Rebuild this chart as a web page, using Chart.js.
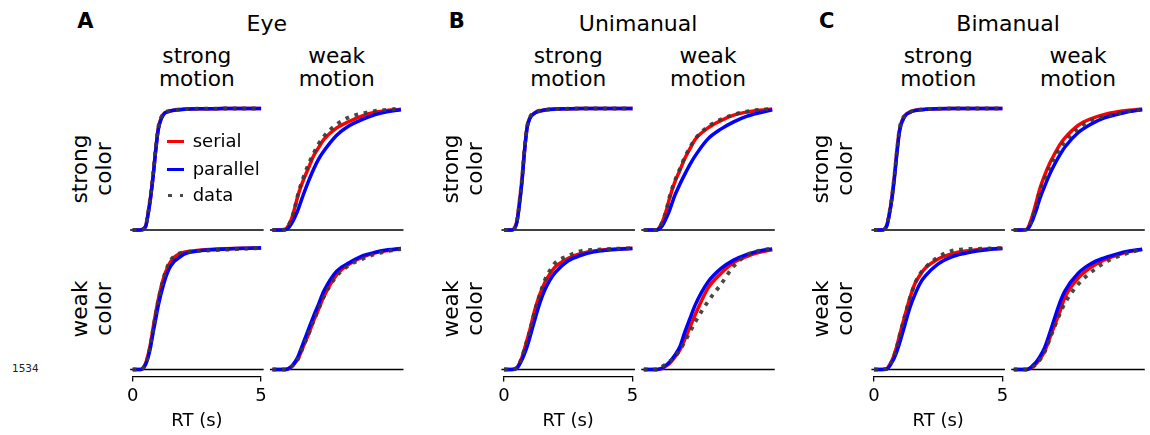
<!DOCTYPE html>
<html><head><meta charset="utf-8">
<script src="https://cdn.jsdelivr.net/npm/chart.js@4/dist/chart.umd.min.js"></script>
<style>
html,body{margin:0;padding:0;background:#fff;width:1150px;height:435px;overflow:hidden;font-family:"DejaVu Sans",sans-serif;color:#000}
#root{position:relative;width:1150px;height:435px}
canvas{position:absolute}
.t{position:absolute;white-space:nowrap;text-align:center}
</style></head><body>
<div id="root"></div>
<script>
// ---------- data ----------
const T = [0, 0.3, 0.5, 0.6, 0.7, 0.8, 0.9, 1.0, 1.2, 1.4, 1.6, 1.8, 2.0, 2.5, 3.0, 3.5, 4.0, 4.5, 5.0];
const xTickValues = [0, 5];
const groupTitles = ['Eye', 'Unimanual', 'Bimanual'];
const groupLetters = ['A', 'B', 'C'];
const colTitles = [['strong', 'motion'], ['weak', 'motion']];
const rowTitles = [['strong', 'color'], ['weak', 'color']];
const legendLabels = ['serial', 'parallel', 'data'];

// Eye
const eyeSS_serial   = [0,0,0.03,0.14,0.28,0.46,0.67,0.84,0.955,0.977,0.986,0.99,0.993,0.997,0.998,0.999,1,1,1];
const eyeSS_parallel = [0,0,0.025,0.13,0.27,0.45,0.66,0.83,0.95,0.974,0.985,0.99,0.993,0.997,0.998,0.999,1,1,1];
const eyeSS_data     = [0,0,0.03,0.14,0.29,0.47,0.68,0.85,0.958,0.98,0.988,0.992,0.995,0.998,0.999,1,1,1,1];
const eyeSW_serial   = [0,0,0.005,0.03,0.07,0.13,0.21,0.29,0.41,0.51,0.61,0.68,0.745,0.84,0.895,0.94,0.97,0.985,0.993];
const eyeSW_parallel = [0,0,0.002,0.015,0.04,0.075,0.12,0.17,0.29,0.40,0.50,0.585,0.65,0.78,0.86,0.91,0.95,0.975,0.99];
const eyeSW_data     = [0,0,0.005,0.03,0.07,0.13,0.21,0.30,0.43,0.54,0.63,0.71,0.77,0.87,0.93,0.96,0.98,0.99,1];
const eyeWS_serial   = [0,0,0.05,0.12,0.22,0.35,0.47,0.58,0.75,0.86,0.92,0.95,0.965,0.98,0.988,0.993,0.996,0.998,1];
const eyeWS_parallel = [0,0,0.04,0.10,0.19,0.31,0.42,0.53,0.70,0.82,0.885,0.92,0.95,0.975,0.985,0.99,0.995,0.998,1];
const eyeWS_data     = [0,0,0.04,0.11,0.21,0.34,0.46,0.57,0.75,0.87,0.93,0.955,0.965,0.975,0.98,0.985,0.99,0.995,1];
const eyeWW_serial   = [0,0,0,0.004,0.015,0.035,0.06,0.09,0.19,0.29,0.40,0.50,0.60,0.78,0.87,0.925,0.96,0.98,0.995];
const eyeWW_parallel = [0,0,0,0.005,0.02,0.04,0.07,0.11,0.22,0.33,0.44,0.54,0.645,0.81,0.88,0.935,0.965,0.985,0.995];
const eyeWW_data     = [0,0,0,0.004,0.015,0.035,0.06,0.09,0.19,0.29,0.40,0.50,0.60,0.77,0.86,0.91,0.95,0.975,0.99];
// Unimanual
const uniSS_serial   = [0,0,0.07,0.22,0.41,0.66,0.85,0.92,0.965,0.98,0.99,0.993,0.995,0.998,1,1,1,1,1];
const uniSS_parallel = [0,0,0.06,0.21,0.40,0.65,0.84,0.915,0.962,0.978,0.988,0.992,0.995,0.998,1,1,1,1,1];
const uniSS_data     = [0,0,0.07,0.23,0.42,0.67,0.85,0.925,0.968,0.982,0.99,0.994,0.996,0.998,1,1,1,1,1];
const uniSW_serial   = [0,0,0,0.02,0.055,0.11,0.18,0.26,0.39,0.49,0.59,0.67,0.745,0.84,0.90,0.945,0.97,0.985,0.995];
const uniSW_parallel = [0,0,0,0.01,0.03,0.065,0.11,0.16,0.28,0.375,0.46,0.54,0.61,0.75,0.83,0.89,0.935,0.965,0.99];
const uniSW_data     = [0,0,0,0.02,0.055,0.11,0.18,0.27,0.40,0.50,0.60,0.68,0.75,0.85,0.91,0.95,0.975,0.99,0.998];
const uniWS_serial   = [0,0,0.015,0.05,0.10,0.17,0.245,0.32,0.49,0.62,0.72,0.79,0.845,0.915,0.955,0.975,0.987,0.993,0.997];
const uniWS_parallel = [0,0,0.01,0.04,0.08,0.13,0.19,0.26,0.41,0.55,0.66,0.74,0.80,0.895,0.94,0.968,0.982,0.99,0.995];
const uniWS_data     = [0,0,0.015,0.05,0.10,0.17,0.24,0.31,0.48,0.62,0.74,0.82,0.88,0.935,0.975,0.985,0.99,0.995,1];
const uniWW_serial   = [0,0,0,0.003,0.008,0.02,0.035,0.05,0.10,0.16,0.25,0.35,0.45,0.67,0.79,0.88,0.93,0.965,0.985];
const uniWW_parallel = [0,0,0,0.003,0.01,0.025,0.04,0.06,0.115,0.185,0.31,0.42,0.53,0.72,0.83,0.90,0.945,0.975,0.993];
const uniWW_data     = [0,0,0,0.005,0.02,0.035,0.05,0.065,0.10,0.16,0.23,0.31,0.39,0.56,0.70,0.85,0.94,0.978,0.995];
// Bimanual
const biSS_serial    = [0,0,0.04,0.14,0.27,0.45,0.66,0.83,0.94,0.97,0.985,0.99,0.993,0.997,0.999,1,1,1,1];
const biSS_parallel  = [0,0,0.035,0.13,0.26,0.44,0.65,0.82,0.935,0.968,0.983,0.99,0.993,0.997,0.999,1,1,1,1];
const biSS_data      = [0,0,0.04,0.14,0.28,0.46,0.67,0.84,0.945,0.972,0.986,0.992,0.995,0.998,1,1,1,1,1];
const biSW_serial    = [0,0,0.005,0.04,0.10,0.17,0.25,0.33,0.45,0.55,0.63,0.705,0.76,0.86,0.915,0.95,0.972,0.986,0.995];
const biSW_parallel  = [0,0,0.003,0.025,0.065,0.12,0.18,0.25,0.36,0.46,0.545,0.62,0.685,0.80,0.87,0.92,0.95,0.975,0.99];
const biSW_data      = [0,0,0.004,0.035,0.085,0.15,0.22,0.30,0.42,0.52,0.60,0.675,0.73,0.83,0.90,0.935,0.96,0.98,0.993];
const biWS_serial    = [0,0,0.007,0.035,0.075,0.13,0.20,0.285,0.44,0.59,0.71,0.78,0.835,0.91,0.95,0.973,0.985,0.993,0.997];
const biWS_parallel  = [0,0,0.005,0.025,0.06,0.10,0.155,0.22,0.365,0.51,0.62,0.71,0.77,0.87,0.925,0.955,0.975,0.988,0.995];
const biWS_data      = [0,0,0.005,0.03,0.07,0.125,0.195,0.28,0.44,0.59,0.71,0.79,0.84,0.925,0.975,0.99,0.993,0.996,1];
const biWW_serial    = [0,0,0,0.005,0.018,0.035,0.055,0.08,0.15,0.26,0.37,0.48,0.60,0.75,0.84,0.90,0.94,0.97,0.988];
const biWW_parallel  = [0,0,0,0.008,0.025,0.045,0.07,0.10,0.18,0.30,0.43,0.555,0.65,0.79,0.87,0.917,0.95,0.975,0.99];
const biWW_data      = [0,0,0,0.005,0.015,0.03,0.05,0.075,0.145,0.25,0.36,0.46,0.55,0.70,0.80,0.875,0.925,0.962,0.99];

const panelSeries = [
  [[eyeSS_serial, eyeSS_parallel, eyeSS_data], [eyeSW_serial, eyeSW_parallel, eyeSW_data],
   [eyeWS_serial, eyeWS_parallel, eyeWS_data], [eyeWW_serial, eyeWW_parallel, eyeWW_data]],
  [[uniSS_serial, uniSS_parallel, uniSS_data], [uniSW_serial, uniSW_parallel, uniSW_data],
   [uniWS_serial, uniWS_parallel, uniWS_data], [uniWW_serial, uniWW_parallel, uniWW_data]],
  [[biSS_serial, biSS_parallel, biSS_data], [biSW_serial, biSW_parallel, biSW_data],
   [biWS_serial, biWS_parallel, biWS_data], [biWW_serial, biWW_parallel, biWW_data]]
];

// ---------- layout ----------
const FONT = '"DejaVu Sans", sans-serif';
const groupX0 = [132.7, 504, 874];
const colOffset = [0, 139.8];
const W = 128.4;
const rowTop = [108.5, 248];
const rowZero = [230, 369.5];
const EXT = 7;
const PAD = 12;
const AXIS_H = 56;

const root = document.getElementById('root');
function addText(txt, left, top, css) {
  const d = document.createElement('div');
  d.className = 't';
  d.innerHTML = txt;
  d.style.left = left + 'px';
  d.style.top = top + 'px';
  Object.assign(d.style, css || {});
  root.appendChild(d);
  return d;
}

function pts(arr) { return T.map((t, i) => ({x: t, y: arr[i]})); }

for (let g = 0; g < 3; g++) {
  addText(groupLetters[g], groupX0[g] - 47.2, 9.4, {fontSize: '21px', fontWeight: 'bold', lineHeight: '25px', transform: 'translateX(-50%)'});
  addText(groupTitles[g], groupX0[g] + 134.1, 10.6, {fontSize: '22px', lineHeight: '26px', transform: 'translateX(-50%)'});
  for (let c = 0; c < 2; c++) {
    addText(colTitles[c].join('<br>'), groupX0[g] + colOffset[c] + W / 2, 43.6,
      {fontSize: '21.7px', lineHeight: '23.5px', transform: 'translateX(-50%)'});
  }
  for (let r = 0; r < 2; r++) {
    const cy = (rowTop[r] + rowZero[r]) / 2;
    addText(rowTitles[r].join('<br>'), groupX0[g] - 41.2, cy,
      {fontSize: '21.7px', lineHeight: '24px', transform: 'translate(-50%,-50%) rotate(-90deg)'});
  }
  for (let r = 0; r < 2; r++) {
    for (let c = 0; c < 2; c++) {
      const series = panelSeries[g][r * 2 + c];
      const axis = (r === 1 && c === 0);
      const L = groupX0[g] + colOffset[c];
      const caTop = rowTop[r];
      const caBottom = rowZero[r] + EXT;
      const cl = Math.floor(L - PAD), ct = Math.floor(caTop - PAD);
      const padL = L - cl, padT = caTop - ct;
      const cw = Math.ceil(L + W + PAD) - cl;
      const padR = cw - padL - W;
      const ch = Math.ceil(caBottom + (axis ? AXIS_H : PAD)) - ct;
      const padB = axis ? (ch - (caBottom - ct) - AXIS_H) : (ch - (caBottom - ct));
      const cv = document.createElement('canvas');
      cv.width = cw; cv.height = ch;
      cv.style.left = cl + 'px'; cv.style.top = ct + 'px';
      cv.style.width = cw + 'px'; cv.style.height = ch + 'px';
      root.appendChild(cv);
      const line = (label, arr, color, w, dash) => ({
        label, data: pts(arr), borderColor: color, borderWidth: w, borderDash: dash || [],
        borderCapStyle: 'butt', pointRadius: 0, cubicInterpolationMode: 'monotone', fill: false, clip: false
      });
      new Chart(cv.getContext('2d'), {
        type: 'line',
        data: {datasets: [
          line('data', series[2], 'rgba(58,58,58,0.92)', 3.8, [3.8, 5.7]),
          line('parallel', series[1], '#0000ff', 3.5),
          line('serial', series[0], '#ff0000', 3.5),
          {label: 'baseline', data: [{x: -0.1, y: 0}, {x: 5.1, y: 0}], borderColor: '#000', borderWidth: 1.4,
           pointRadius: 0, fill: false, clip: false}
        ]},
        options: {
          responsive: false, animation: false, devicePixelRatio: 1, events: [],
          layout: {padding: {left: padL, right: padR, top: padT, bottom: padB}},
          plugins: {legend: {display: false}, tooltip: {enabled: false}, title: {display: false}},
          scales: {
            x: axis ? {
              type: 'linear', min: 0, max: 5, position: 'bottom', display: true,
              afterBuildTicks: s => { s.ticks = xTickValues.map(v => ({value: v})); },
              afterFit: s => { s.height = AXIS_H; },
              border: {display: true, color: '#000', width: 1.3},
              grid: {display: true, drawOnChartArea: false, drawTicks: true, tickLength: 5, color: '#000', lineWidth: 1.3},
              ticks: {color: '#000', font: {family: FONT, size: 18}, padding: 4, maxRotation: 0, autoSkip: false,
                      callback: v => String(v)},
              title: {display: true, text: 'RT (s)', color: '#000', font: {family: FONT, size: 18}, padding: {top: 0, bottom: 0}}
            } : {type: 'linear', min: 0, max: 5, display: false},
            y: {type: 'linear', min: -EXT / 121.5, max: 1, display: false}
          }
        }
      });
    }
  }
}

// legend (inside Eye / strong color / strong motion)
const legColors = ['#ff0000', '#0000ff', null];
const legY = [141.7, 169.3, 195.7];
for (let i = 0; i < 3; i++) {
  const sw = document.createElement('div');
  sw.style.position = 'absolute';
  sw.style.left = '166.5px';
  sw.style.width = '17.5px';
  if (legColors[i]) {
    sw.style.top = (legY[i] - 1.5) + 'px';
    sw.style.height = '3px';
    sw.style.background = legColors[i];
  } else {
    sw.style.top = (legY[i] - 1.8) + 'px';
    sw.style.height = '3.6px';
    sw.style.background = 'repeating-linear-gradient(to right, rgba(58,58,58,0.92) 0 3.6px, transparent 3.6px 11.7px)';
    sw.style.left = '168.3px';
  }
  root.appendChild(sw);
  addText(legendLabels[i], 192.7, legY[i] - 14.8, {fontSize: '18px', lineHeight: '27px', textAlign: 'left'});
}

addText('1534', 12, 362, {fontSize: '10.5px', lineHeight: '13px', textAlign: 'left', color: '#222'});
</script>
</body></html>
